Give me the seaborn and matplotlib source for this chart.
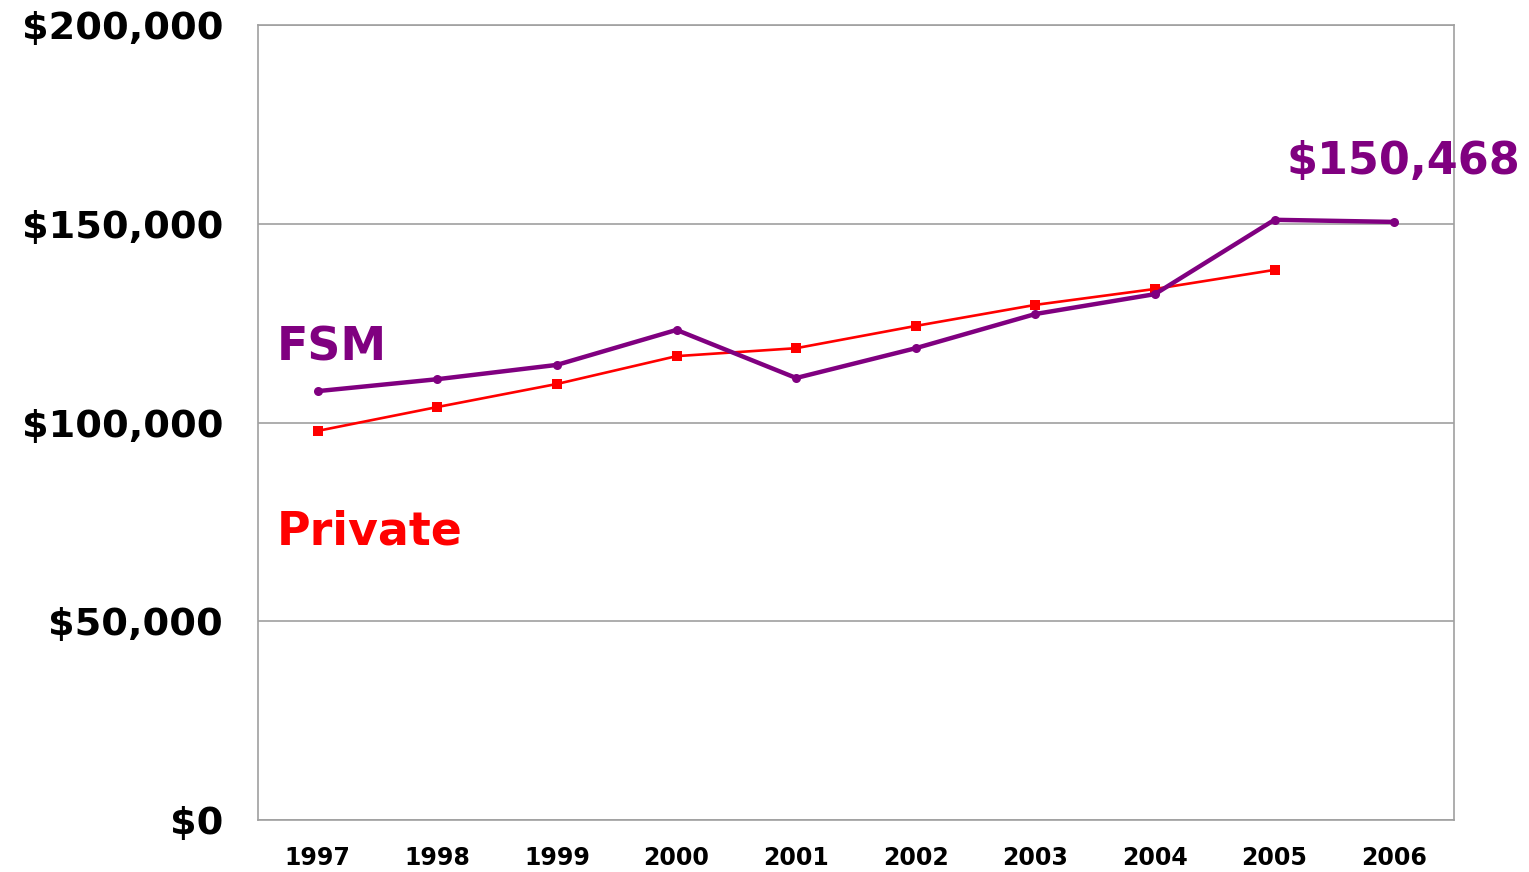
import numpy as np
import pandas as pd
import seaborn as sns
import matplotlib.pyplot as plt
from matplotlib.ticker import FuncFormatter, FixedLocator

years = ['1997', '1998', '1999', '2000', '2001', '2002', '2003', '2004', '2005', '2006']
fsm = [107900, 110900, 114500, 123300, 111200, 118700, 127300, 132300, 151000, 150468]
private = [97900, 103900, 109700, 116700, 118700, 124300, 129600, 133600, 138400]

fsm_df = pd.DataFrame({'pos': np.arange(len(fsm)), 'salary': fsm})
priv_df = pd.DataFrame({'pos': np.arange(len(private)), 'salary': private})

sns.set_style('white')
plt.rcParams['font.family'] = ['DejaVu Sans']

fig = plt.figure(figsize=(15.29, 8.72), dpi=100)
ax = fig.add_axes([0.1687, 0.0596, 0.7822, 0.9117])

sns.lineplot(data=priv_df, x='pos', y='salary', ax=ax, color='#FF0000', linewidth=1.9,
             marker='s', markersize=6.5, markeredgewidth=0, zorder=3)
sns.lineplot(data=fsm_df, x='pos', y='salary', ax=ax, color='#800080', linewidth=3.2,
             marker='o', markersize=6.5, markeredgewidth=0, zorder=4)

ax.set_xlim(-0.5, len(years) - 0.5)
ax.set_ylim(0, 200000)
ax.set_yticks(np.arange(0, 200001, 50000))
ax.yaxis.set_major_formatter(FuncFormatter(lambda v, p: f'${v:,.0f}'))
ax.grid(axis='y', color='#A0A0A0', linewidth=1.2)
ax.set_axisbelow(True)

# category axis: ticks between the years, labels in the middle
ax.xaxis.set_major_locator(FixedLocator(np.arange(-0.5, len(years), 1.0)))
ax.set_xticklabels([])
ax.xaxis.set_minor_locator(FixedLocator(np.arange(len(years))))
ax.set_xticklabels(years, minor=True, fontsize=17, fontweight='bold', color='black')
ax.tick_params(axis='x', which='major', length=8, color='#A0A0A0', width=1.2)
ax.tick_params(axis='x', which='minor', length=0, pad=19)
ax.tick_params(axis='y', length=0, labelsize=27.5, pad=25, labelcolor='black')
for lab in ax.get_yticklabels():
    lab.set_fontweight('bold')

for s in ax.spines.values():
    s.set_color('#A0A0A0')
    s.set_linewidth(1.2)

ax.set_xlabel('')
ax.set_ylabel('')

ax.text(-0.34, 113100, 'FSM', color='#800080', fontsize=33, fontweight='bold', va='bottom')
ax.text(-0.34, 66700, 'Private', color='#FF0000', fontsize=33, fontweight='bold', va='bottom')
ax.text(8.1, 160300, '$150,468', color='#800080', fontsize=32, fontweight='bold',
        va='bottom', clip_on=False)

fig.savefig('out.png', dpi=100)
